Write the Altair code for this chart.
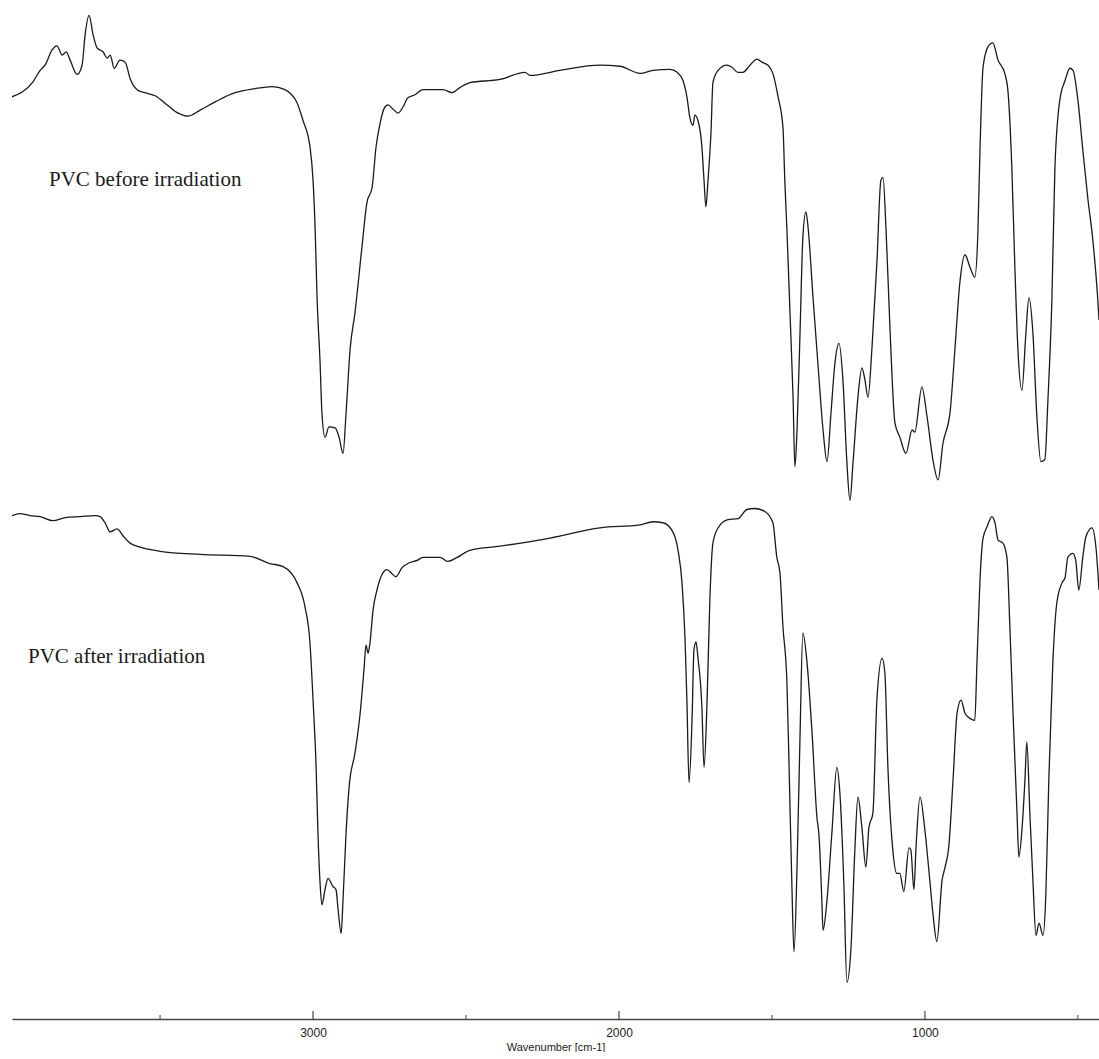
import altair as alt
import pandas as pd

# ---- PVC before irradiation (wavenumber cm-1, transmittance-like units) ----
before_wn = [3984, 3915, 3892, 3876, 3853, 3837, 3820, 3807, 3794, 3771, 3755, 3745, 3732, 3719,
             3706, 3686, 3673, 3663, 3650, 3631, 3614, 3598, 3575, 3549, 3516, 3477, 3441, 3409,
             3369, 3320, 3255, 3190, 3134, 3092, 3052, 3033, 3010, 3000, 2993, 2987, 2977, 2971,
             2961, 2948, 2928, 2915, 2902, 2892, 2879, 2863, 2840, 2824, 2807, 2794, 2781, 2765,
             2755, 2739, 2722, 2706, 2690, 2667, 2641, 2608, 2575, 2546, 2520, 2487, 2389, 2307,
             2291, 2193, 2062, 1997, 1931, 1889, 1833, 1810, 1791, 1778, 1768, 1758, 1752, 1742,
             1729, 1722, 1716, 1709, 1699, 1693, 1676, 1647, 1631, 1611, 1595, 1572, 1549, 1533,
             1513, 1497, 1480, 1464, 1458, 1451, 1441, 1431, 1425, 1418, 1408, 1399, 1389, 1382,
             1366, 1350, 1333, 1320, 1307, 1294, 1281, 1268, 1255, 1245, 1235, 1219, 1206, 1196,
             1186, 1173, 1157, 1144, 1137, 1127, 1114, 1098, 1082, 1062, 1042, 1033, 1010, 993,
             974, 957, 941, 918, 902, 886, 869, 853, 837, 827, 820, 810, 794, 778, 761, 739, 729,
             716, 706, 696, 683, 670, 660, 647, 634, 621, 608, 598, 585, 575, 559, 542, 526, 516,
             500, 484, 467, 451, 435, 431]
before_t = [90.5, 92.0, 93.1, 93.6, 95.1, 95.5, 94.6, 94.9, 94.1, 92.7, 93.6, 96.6, 98.5, 96.6,
            95.3, 94.9, 94.3, 94.6, 93.3, 94.1, 93.9, 92.3, 91.2, 90.9, 90.6, 89.7, 88.9, 88.6,
            89.2, 90.0, 90.9, 91.3, 91.5, 91.2, 89.9, 88.2, 85.6, 82.3, 77.4, 70.9, 64.4, 59.5,
            57.1, 58.1, 58.0, 57.1, 55.5, 59.5, 65.7, 69.3, 75.8, 80.1, 81.6, 85.6, 87.9, 89.5,
            89.7, 89.3, 88.9, 89.5, 90.4, 90.7, 91.2, 91.2, 91.2, 90.9, 91.4, 91.9, 92.2, 92.9,
            92.6, 93.1, 93.6, 93.5, 92.8, 93.1, 93.2, 92.9, 92.1, 90.5, 88.4, 87.7, 88.7, 88.2,
            85.6, 82.3, 79.7, 82.3, 87.2, 91.9, 93.1, 93.6, 93.4, 92.9, 92.9, 93.6, 94.2, 93.9,
            93.6, 92.8, 90.5, 87.5, 82.3, 77.4, 69.3, 61.0, 54.2, 57.8, 67.6, 76.7, 79.2, 77.7,
            70.9, 64.4, 57.8, 54.7, 59.5, 64.4, 66.3, 62.7, 54.6, 50.9, 54.6, 61.0, 63.9, 62.7,
            61.0, 65.9, 74.2, 82.3, 82.6, 77.4, 67.6, 58.5, 57.1, 55.5, 57.8, 57.6, 62.0, 59.1,
            54.9, 52.9, 56.5, 59.5, 65.7, 72.2, 75.0, 73.8, 72.8, 77.1, 85.3, 93.4, 95.4, 95.8,
            94.1, 92.8, 91.2, 83.6, 73.8, 65.7, 61.7, 67.3, 70.8, 67.3, 59.1, 54.7, 54.9, 60.7,
            70.6, 83.6, 90.2, 92.1, 93.3, 93.1, 90.2, 85.3, 80.4, 76.4, 70.6, 68.6]

# ---- PVC after irradiation ----
after_wn = [3984, 3958, 3925, 3892, 3850, 3810, 3761, 3712, 3696, 3680, 3663, 3641, 3618, 3598,
            3565, 3500, 3369, 3206, 3141, 3098, 3052, 3026, 3010, 3000, 2990, 2984, 2977, 2971,
            2961, 2951, 2935, 2925, 2918, 2908, 2902, 2892, 2882, 2863, 2846, 2833, 2827, 2820,
            2814, 2804, 2791, 2775, 2758, 2742, 2729, 2709, 2690, 2660, 2641, 2585, 2559, 2529,
            2487, 2389, 2225, 2062, 1931, 1889, 1856, 1824, 1807, 1794, 1784, 1778, 1771, 1761,
            1755, 1748, 1742, 1729, 1722, 1712, 1703, 1693, 1676, 1644, 1611, 1582, 1556, 1523,
            1497, 1484, 1474, 1464, 1451, 1444, 1435, 1428, 1418, 1408, 1399, 1386, 1369, 1353,
            1346, 1337, 1333, 1320, 1304, 1288, 1278, 1265, 1255, 1242, 1229, 1219, 1206, 1193,
            1183, 1170, 1157, 1140, 1131, 1121, 1105, 1092, 1082, 1069, 1052, 1046, 1036, 1029,
            1016, 1000, 984, 974, 961, 944, 935, 922, 908, 895, 882, 869, 853, 837, 830, 820, 810,
            797, 781, 771, 761, 745, 732, 722, 712, 699, 693, 683, 673, 667, 657, 647, 637, 627,
            614, 605, 595, 582, 569, 552, 542, 533, 516, 507, 497, 484, 474, 454, 441, 431]
after_t = [49.4, 49.6, 49.4, 49.3, 48.9, 49.2, 49.3, 49.4, 49.3, 48.7, 47.8, 48.1, 47.3, 46.7,
           46.3, 45.9, 45.6, 45.4, 44.7, 44.4, 42.8, 40.4, 36.9, 31.3, 24.7, 18.3, 13.3, 11.2,
           12.7, 13.8, 13.0, 12.7, 10.7, 8.4, 11.7, 18.3, 22.8, 26.1, 30.0, 34.5, 36.7, 35.9,
           36.9, 40.1, 42.1, 43.6, 44.1, 43.7, 43.4, 44.3, 44.7, 45.0, 45.3, 45.3, 44.9, 45.3,
           46.0, 46.4, 47.2, 48.2, 48.5, 48.8, 48.7, 47.8, 46.0, 42.8, 37.2, 31.3, 23.2, 29.6,
           36.2, 37.0, 35.5, 30.6, 24.7, 31.3, 41.1, 46.7, 48.2, 49.0, 49.1, 50.0, 50.1, 49.8,
           48.7, 45.3, 43.8, 38.5, 33.0, 24.7, 13.3, 6.6, 14.9, 28.1, 37.9, 35.2, 28.1, 19.8,
           17.9, 11.7, 8.7, 11.7, 18.3, 24.7, 22.2, 13.3, 3.6, 6.8, 16.6, 21.8, 18.8, 14.9,
           18.8, 20.2, 31.3, 35.4, 34.0, 24.7, 16.6, 14.3, 14.3, 12.5, 16.8, 16.6, 12.7, 16.9,
           21.8, 18.5, 13.6, 10.4, 7.6, 13.6, 14.8, 16.9, 23.5, 30.0, 31.3, 30.0, 29.5, 29.3,
           34.9, 43.1, 47.2, 48.3, 49.3, 48.7, 47.0, 46.7, 45.3, 38.2, 30.0, 20.2, 15.9, 18.5,
           23.5, 27.2, 20.2, 13.6, 8.2, 9.4, 8.2, 12.0, 23.5, 34.9, 40.8, 42.8, 43.3, 45.3,
           45.7, 45.0, 42.1, 45.3, 47.3, 48.2, 46.3, 42.1]

series_names = ["PVC before irradiation", "PVC after irradiation"]
major_ticks = [3000, 2000, 1000]
minor_ticks = [3500, 2500, 1500, 500]

df = pd.concat([
    pd.DataFrame({"wn": before_wn, "t": before_t, "series": series_names[0]}),
    pd.DataFrame({"wn": after_wn, "t": after_t, "series": series_names[1]}),
])

xscale = alt.Scale(domain=[431, 3984], reverse=True, nice=False, zero=False)
yscale = alt.Scale(domain=[0, 100], nice=False, zero=False)

lines = alt.Chart(df).mark_line(color="#1a1a1a", strokeWidth=1.3, clip=True,
                                interpolate="monotone").encode(
    x=alt.X("wn:Q", scale=xscale,
            axis=alt.Axis(values=major_ticks, format="d", ticks=False, grid=False,
                          domainColor="#444", domainWidth=1.5,
                          labelFont="Liberation Sans", labelFontSize=12, labelColor="#222",
                          labelPadding=8,
                          title="Wavenumber [cm-1]", titleFont="Liberation Sans",
                          titleFontSize=11, titleFontWeight="normal", titleColor="#222",
                          titlePadding=3)),
    y=alt.Y("t:Q", scale=yscale, axis=None),
    detail="series:N",
    order=alt.Order("wn:Q", sort="descending"),
)

major = alt.Chart(pd.DataFrame({"wn": major_ticks})).mark_rule(color="#444", strokeWidth=1.2).encode(
    x=alt.X("wn:Q", scale=xscale),
    y=alt.value(1019), y2=alt.value(1011),
)
minor = alt.Chart(pd.DataFrame({"wn": minor_ticks})).mark_rule(color="#444", strokeWidth=1).encode(
    x=alt.X("wn:Q", scale=xscale),
    y=alt.value(1019), y2=alt.value(1015),
)

label_before = alt.Chart(pd.DataFrame({"name": [series_names[0]]})).mark_text(
    font="Liberation Serif", fontSize=21, color="#1a1a1a", align="left", baseline="alphabetic"
).encode(text="name:N", x=alt.value(37), y=alt.value(186))

label_after = alt.Chart(pd.DataFrame({"name": [series_names[1]]})).mark_text(
    font="Liberation Serif", fontSize=21, color="#1a1a1a", align="left", baseline="alphabetic"
).encode(text="name:N", x=alt.value(16), y=alt.value(663))

chart = alt.layer(lines, major, minor, label_before, label_after).properties(
    width=1087, height=1019,
    padding={"left": 12, "top": 0, "right": 0, "bottom": 0},
).configure(background="white").configure_view(stroke=None)

chart.save("out.html", embed_options={"renderer": "svg", "actions": False})
